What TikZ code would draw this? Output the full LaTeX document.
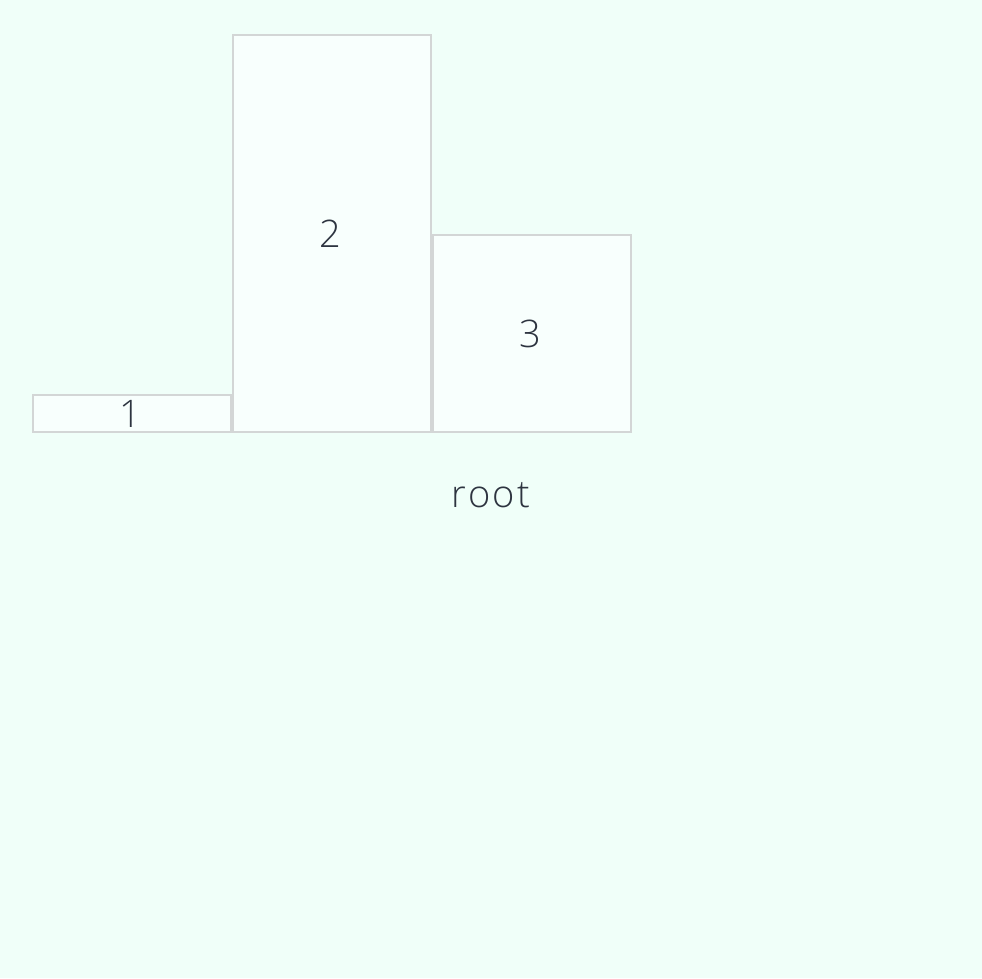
\documentclass[tikz,border=0pt]{standalone}
\usepackage{fontspec}
\IfFontExistsTF{Open Sans Light}{\setmainfont{Open Sans Light}}{\setmainfont{Open Sans}}
\definecolor{bgmint}{HTML}{F0FFF9}
\definecolor{boxfill}{HTML}{F8FFFD}
\definecolor{boxline}{HTML}{D3D6D6}
\definecolor{ink}{HTML}{2D3440}
\tikzset{bar/.style={draw=boxline,fill=boxfill,line width=2pt,inner sep=0pt,
  minimum width=198pt,text=ink,font=\fontsize{38}{40}\selectfont}}
\begin{document}
\begin{tikzpicture}[x=1pt,y=-1pt]
\fill[bgmint](0,0)rectangle(982,978);
\useasboundingbox(0,0)rectangle(982,978);
\foreach \n/\x/\h in {1/132/37,2/332/397,3/532/197}
  \node[bar,minimum height=\h pt,anchor=south](bar\n)at(\x,433){\hspace*{-4pt}\n};
\node[text=ink,font=\fontsize{38}{40}\selectfont\addfontfeature{LetterSpace=6}](root)at(491,495){root};
\end{tikzpicture}
\end{document}
